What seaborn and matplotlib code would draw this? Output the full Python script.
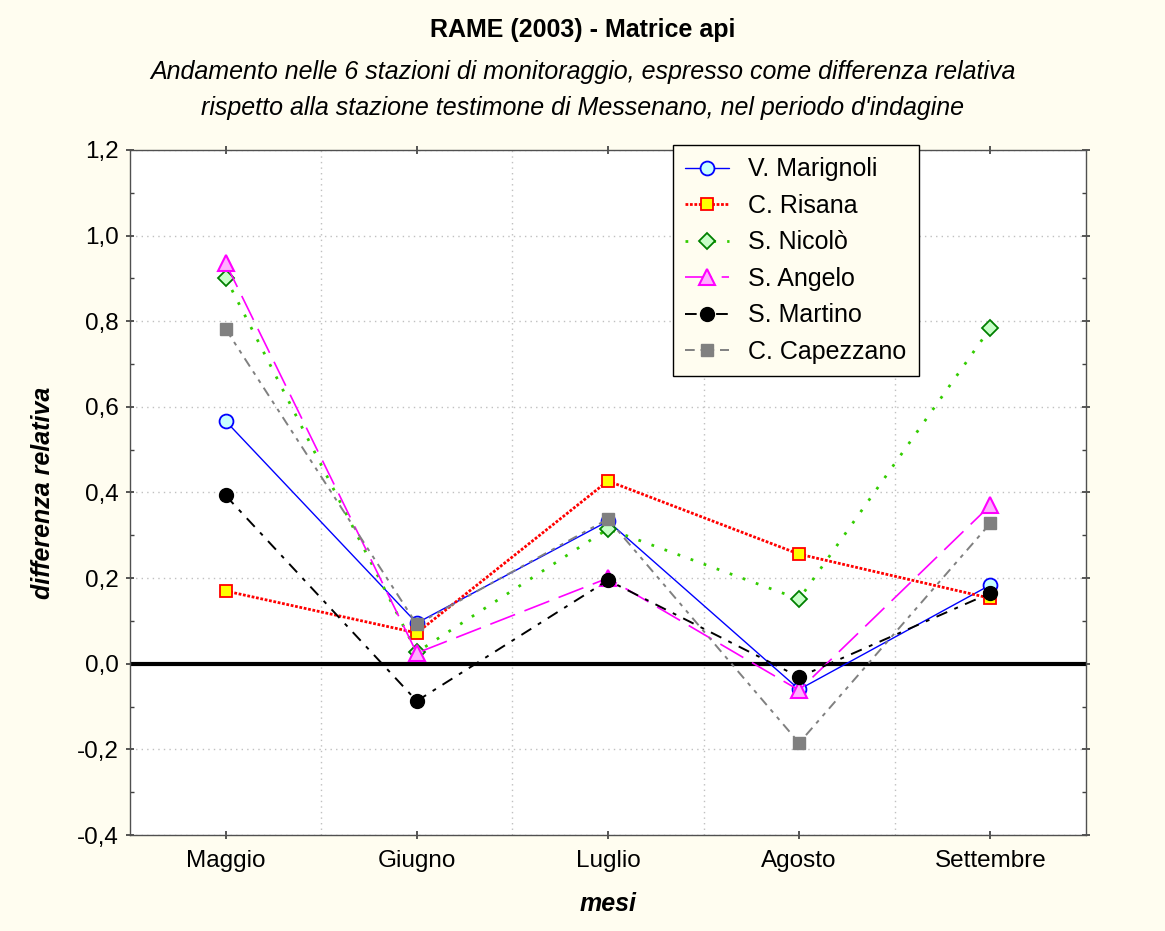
import matplotlib
matplotlib.use("Agg")
import matplotlib.pyplot as plt
from matplotlib.ticker import FuncFormatter, MultipleLocator, FixedLocator
import seaborn as sns
import pandas as pd

mesi = ["Maggio", "Giugno", "Luglio", "Agosto", "Settembre"]
v_marignoli = [0.567, 0.095, 0.333, -0.060, 0.184]
c_risana = [0.170, 0.072, 0.427, 0.256, 0.153]
s_nicolo = [0.902, 0.027, 0.315, 0.151, 0.784]
s_angelo = [0.936, 0.025, 0.200, -0.062, 0.370]
s_martino = [0.393, -0.087, 0.195, -0.031, 0.165]
c_capezzano = [0.782, 0.092, 0.338, -0.185, 0.328]

series = [
    ("V. Marignoli", v_marignoli, dict(color="#0000FF", linestyle="-", lw=1.0, marker="o", ms=10,
                                       mfc="#C8FFFF", mec="#0000FF", mew=1.3)),
    ("C. Risana", c_risana, dict(color="#FF0000", linestyle=(0, (1, 0.6)), lw=2.0, marker="s", ms=9,
                                 mfc="#FFFF00", mec="#FF0000", mew=1.3)),
    ("S. Nicolò", s_nicolo, dict(color="#33CC00", linestyle=(0, (1, 4)), lw=2.0, marker="D", ms=8,
                                 mfc="#C8FFC8", mec="#008000", mew=1.3)),
    ("S. Angelo", s_angelo, dict(color="#FF00FF", linestyle=(0, (16, 6)), lw=1.2, marker="^", ms=11,
                                 mfc="#FFB0FF", mec="#FF00FF", mew=1.5)),
    ("S. Martino", s_martino, dict(color="#000000", linestyle=(0, (6, 4, 2, 4)), lw=1.4, marker="o", ms=10,
                                   mfc="#000000", mec="#000000", mew=1.0)),
    ("C. Capezzano", c_capezzano, dict(color="#808080", linestyle=(0, (5, 3, 2, 3, 2, 3)), lw=1.4, marker="s", ms=9,
                                       mfc="#808080", mec="#808080", mew=1.0)),
]

sns.set_theme(style="white")
plt.rcParams["font.family"] = ["Liberation Sans", "DejaVu Sans"]
plt.rcParams["text.color"] = "black"
plt.rcParams["axes.labelcolor"] = "black"
plt.rcParams["xtick.color"] = "black"
plt.rcParams["ytick.color"] = "black"

bg = "#FFFDF0"
fig = plt.figure(figsize=(11.65, 9.31), dpi=100, facecolor=bg)
ax = fig.add_axes([0.1116, 0.1031, 0.8205, 0.7358])
ax.set_facecolor("white")

for name, vals, st in series:
    df = pd.DataFrame({"mese": mesi, "val": vals})
    sns.lineplot(data=df, x="mese", y="val", ax=ax, sort=False, label=name, **st)

ax.axhline(0, color="black", lw=3, zorder=1.5)

ax.set_xlim(-0.5, len(mesi) - 0.5)
ax.set_ylim(-0.4, 1.2)
ax.yaxis.set_major_locator(MultipleLocator(0.2))
ax.yaxis.set_minor_locator(MultipleLocator(0.1))
ax.yaxis.set_major_formatter(FuncFormatter(lambda v, p: f"{v:.1f}".replace(".", ",").replace("-0,0", "0,0")))
ax.xaxis.set_major_locator(FixedLocator(range(len(mesi))))
ax.set_xticklabels(mesi)
ax.xaxis.set_minor_locator(FixedLocator([i + 0.5 for i in range(len(mesi) - 1)]))

ax.grid(True, which="major", axis="y", color="#C0C0C0", linestyle=(0, (1, 3)), lw=1)
ax.grid(True, which="minor", axis="x", color="#C0C0C0", linestyle=(0, (1, 3)), lw=1)
ax.grid(False, which="major", axis="x")

ax.tick_params(axis="both", which="major", labelsize=17.5, direction="inout", length=6,
               color="#404040", labelcolor="black", top=True, right=True, bottom=True, left=True)
ax.tick_params(axis="y", which="minor", direction="in", length=3, left=True, right=True, color="#404040")
ax.tick_params(axis="x", which="minor", length=0)
ax.tick_params(axis="x", which="major", pad=8)
ax.tick_params(axis="y", which="major", pad=5)
for sp in ax.spines.values():
    sp.set_color("#505050")
    sp.set_linewidth(1.0)

ax.set_xlabel("mesi", fontsize=18, fontweight="bold", fontstyle="italic", labelpad=14, color="black")
ax.set_ylabel("differenza relativa", fontsize=18, fontweight="bold", fontstyle="italic", labelpad=16, color="black")

leg = ax.legend(loc="upper left", bbox_to_anchor=(0.568, 1.0073), fontsize=18, frameon=True,
                fancybox=False, edgecolor="black", facecolor=bg, framealpha=1,
                handlelength=1.75, borderpad=0.5, labelspacing=0.5, handletextpad=0.75,
                borderaxespad=0)
leg.get_frame().set_linewidth(1.0)
for t in leg.get_texts():
    t.set_color("black")

fig.text(0.5, 0.9678, "RAME (2003) - Matrice api", ha="center", va="center", fontsize=18, fontweight="bold")
fig.text(0.5, 0.9227, "Andamento nelle 6 stazioni di monitoraggio, espresso come differenza relativa",
         ha="center", va="center", fontsize=18, fontstyle="italic")
fig.text(0.5, 0.8835, "rispetto alla stazione testimone di Messenano, nel periodo d'indagine",
         ha="center", va="center", fontsize=18, fontstyle="italic")

fig.savefig("out.png", dpi=100, facecolor=bg)
